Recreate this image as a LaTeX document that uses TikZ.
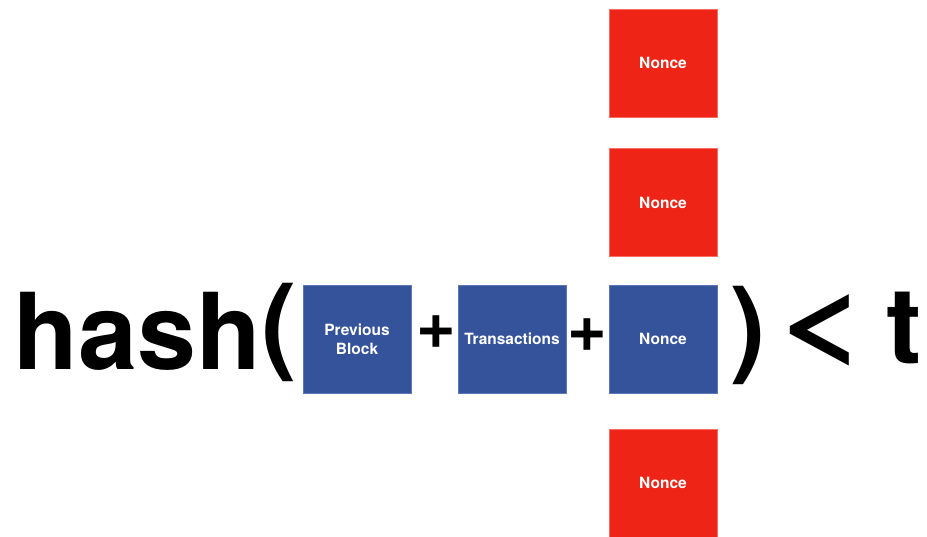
\documentclass[tikz,border=0pt]{standalone}
\usepackage{fontspec}
\setmainfont{TeX Gyre Heros}
\definecolor{blockblue}{RGB}{52,83,154}
\definecolor{blockblueedge}{RGB}{92,120,184}
\definecolor{noncered}{RGB}{238,37,22}
\definecolor{nonceredge}{RGB}{246,110,100}
\begin{document}
\begin{tikzpicture}[x=1pt,y=1pt,
  block/.style={minimum width=108pt,minimum height=108pt,inner sep=0pt,
    text=white,font=\fontsize{15.5}{19}\selectfont\bfseries,align=center},
  bluebox/.style={block,fill=blockblue,draw=blockblueedge,line width=0.6pt},
  redbox/.style={block,fill=noncered,draw=nonceredge,line width=0.6pt},
  bigtext/.style={inner sep=0pt,anchor=base west,font=\fontsize{106}{120}\selectfont\bfseries},
  plussign/.style={inner sep=0pt,anchor=base west,font=\fontsize{68}{80}\selectfont\bfseries}]
\useasboundingbox (0,0) rectangle (927,537);

% the hashed expression
\node[bigtext] (hash) at (13.7,167) {hash\raisebox{9pt}{(}};
\node[bluebox] (prev) at (357,198) {Previous\\Block};
\node[plussign] (plusa) at (416.3,188) {+};
\node[bluebox] (tx) at (512,198) {Transactions};
\node[plussign] (plusb) at (567.3,185) {+};
\node[bluebox] (nonce) at (663,198) {Nonce};
\node[bigtext] (target) at (730.5,173)
  {)\hspace{10.2pt}\raisebox{8.5pt}{\scalebox{1.48}[0.95]{<}}\hspace{19pt}t};

% other nonces being tried
\node[redbox] (noncea) at (663,474) {Nonce};
\node[redbox] (nonceb) at (663,334.5) {Nonce};
\node[redbox] (noncec) at (663,54) {Nonce};
\end{tikzpicture}
\end{document}
